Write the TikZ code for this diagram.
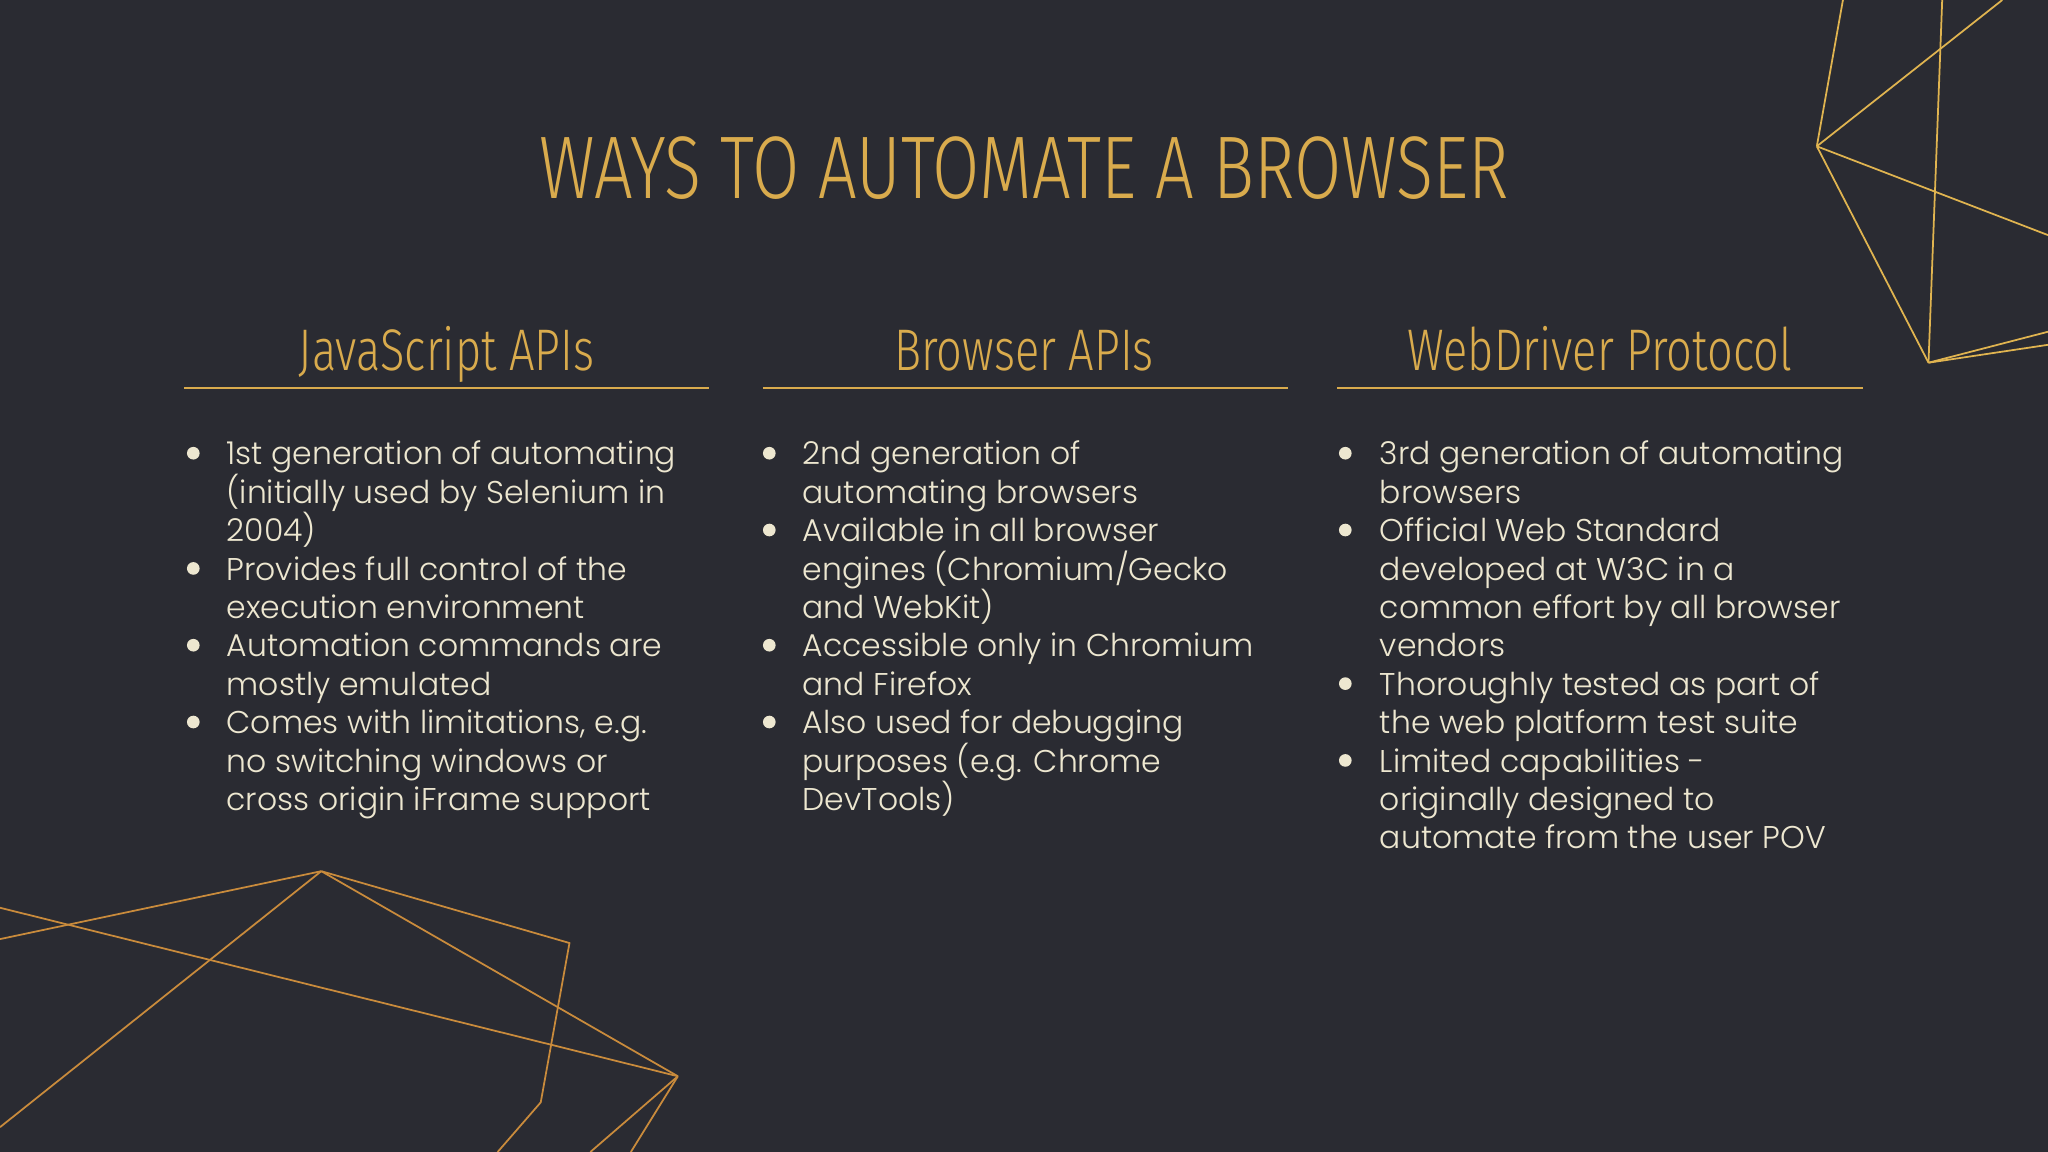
\documentclass[tikz,border=0pt]{standalone}
\usepackage{fontspec}
\setmainfont{Poppins}[UprightFont=* Light]
\newfontfamily\condfont{Fira Sans}[UprightFont=* Light,FakeStretch=0.77]
\definecolor{bg}{HTML}{2A2B32}
\definecolor{gold}{HTML}{D9AB4D}
\definecolor{body}{HTML}{EDE7D0}
\definecolor{lineA}{HTML}{C98B3C}
\definecolor{lineB}{HTML}{E0B450}
\tikzset{
 bodytxt/.style={anchor=base west,inner sep=0pt,text=body,font=\fontsize{8.95}{10.9}\selectfont},
 head/.style={anchor=base,inner sep=0pt,text=gold,font=\condfont\fontsize{16.7}{18}\selectfont},
 dot/.style={fill=body,circle,inner sep=0pt,minimum size=3.6pt},
 uline/.style={draw=gold,line width=0.8pt},
 geoA/.style={draw=lineA,line width=0.5pt},
 geoB/.style={draw=lineB,line width=0.5pt}
}
\newcommand\bl[3]{\node[bodytxt] at (#1,{356+29.4*#2}) {#3};}
\newcommand\bd[2]{\node[dot] at (#1,{347+29.4*#2}) {};}
\begin{document}
\begin{tikzpicture}[x=0.0130612cm,y=-0.0130612cm]
\fill[bg] (0,0) rectangle (1568,882);
\useasboundingbox (0,0) rectangle (1568,882);
% geometry top right
\coordinate (C) at (1391,112); \coordinate (D) at (1476.5,277.7);
\draw[geoB] (C) -- (1411,0); \draw[geoB] (C) -- (1533,0);
\draw[geoB] (C) -- (1568,180); \draw[geoB] (C) -- (D);
\draw[geoB] (D) -- (1487,0); \draw[geoB] (D) -- (1568,254); \draw[geoB] (D) -- (1568,264);
% geometry bottom left
\coordinate (P) at (246,667); \coordinate (Q) at (519,824);
\coordinate (R) at (436,722); \coordinate (S) at (414,844);
\draw[geoA] (0,719) -- (P); \draw[geoA] (0,695) -- (Q);
\draw[geoA] (P) -- (0,863); \draw[geoA] (P) -- (R) -- (S) -- (381,882);
\draw[geoA] (P) -- (Q); \draw[geoA] (Q) -- (452,882); \draw[geoA] (Q) -- (483,882);
% title
\node[anchor=base,inner sep=0pt,text=gold,font=\condfont\fontsize{25.3}{28}\selectfont] (title) at (784,152) {WAYS TO AUTOMATE A BROWSER};
% headers
\node[head] (h1) at (342,284) {JavaScript APIs};
\node[head] (h2) at (784,284) {Browser APIs};
\node[head] (h3) at (1225,284) {WebDriver Protocol};
\draw[uline] (141,297) -- (543,297);
\draw[uline] (584,297) -- (986,297);
\draw[uline] (1024,297) -- (1426,297);
% column 1
\bd{148}{0}\bd{148}{3}\bd{148}{5}\bd{148}{7}
\bl{173}{0}{1st generation of automating}
\bl{173}{1}{(initially used by Selenium in}
\bl{173}{2}{2004)}
\bl{173}{3}{Provides full control of the}
\bl{173}{4}{execution environment}
\bl{173}{5}{Automation commands are}
\bl{173}{6}{mostly emulated}
\bl{173}{7}{Comes with limitations, e.g.}
\bl{173}{8}{no switching windows or}
\bl{173}{9}{cross origin iFrame support}
% column 2
\bd{589}{0}\bd{589}{2}\bd{589}{5}\bd{589}{7}
\bl{614}{0}{2nd generation of}
\bl{614}{1}{automating browsers}
\bl{614}{2}{Available in all browser}
\bl{614}{3}{engines (Chromium/Gecko}
\bl{614}{4}{and WebKit)}
\bl{614}{5}{Accessible only in Chromium}
\bl{614}{6}{and Firefox}
\bl{614}{7}{Also used for debugging}
\bl{614}{8}{purposes (e.g. Chrome}
\bl{614}{9}{DevTools)}
% column 3
\bd{1030}{0}\bd{1030}{2}\bd{1030}{6}\bd{1030}{8}
\bl{1056}{0}{3rd generation of automating}
\bl{1056}{1}{browsers}
\bl{1056}{2}{Official Web Standard}
\bl{1056}{3}{developed at W3C in a}
\bl{1056}{4}{common effort by all browser}
\bl{1056}{5}{vendors}
\bl{1056}{6}{Thoroughly tested as part of}
\bl{1056}{7}{the web platform test suite}
\bl{1056}{8}{Limited capabilities -}
\bl{1056}{9}{originally designed to}
\bl{1056}{10}{automate from the user POV}
\end{tikzpicture}
\end{document}
